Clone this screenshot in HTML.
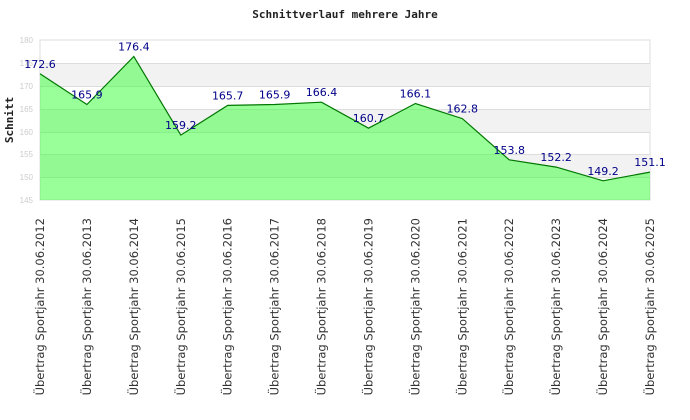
<!DOCTYPE html>
<html><head><meta charset="utf-8"><style>body{margin:0;background:#fff}svg{display:block}</style></head><body>
<svg width="690" height="420" xmlns="http://www.w3.org/2000/svg">
<rect width="690" height="420" fill="#fff"/>
<text x="345" y="18" text-anchor="middle" font-family="DejaVu Sans Mono, Liberation Mono, monospace" font-weight="bold" font-size="11" fill="#222">Schnittverlauf mehrere Jahre</text>
<text transform="translate(13,120) rotate(-90)" text-anchor="middle" font-family="DejaVu Sans Mono, Liberation Mono, monospace" font-weight="bold" font-size="11" fill="#222">Schnitt</text>
<rect x="40" y="40" width="610" height="160" fill="#fff" stroke="#ddd"/>
<rect x="40" y="63" width="610" height="23" fill="#f2f2f2"/>
<rect x="40" y="109" width="610" height="23" fill="#f2f2f2"/>
<rect x="40" y="154" width="610" height="23" fill="#f2f2f2"/>
<g stroke="#ddd" stroke-width="1">
<line x1="40" x2="650" y1="63.5" y2="63.5"/><line x1="40" x2="650" y1="86.5" y2="86.5"/><line x1="40" x2="650" y1="109.5" y2="109.5"/><line x1="40" x2="650" y1="132.5" y2="132.5"/><line x1="40" x2="650" y1="154.5" y2="154.5"/><line x1="40" x2="650" y1="177.5" y2="177.5"/>
</g>
<g font-family="Liberation Sans, sans-serif" font-size="8" fill="#ccc" text-anchor="end">
<text x="33" y="43">180</text><text x="33" y="66">175</text><text x="33" y="89">170</text><text x="33" y="112">165</text><text x="33" y="135">160</text><text x="33" y="157">155</text><text x="33" y="180">150</text><text x="33" y="203">145</text>
</g>
<g id="chart"></g>
<script>
var v=[172.6,165.9,176.4,159.2,165.7,165.9,166.4,160.7,166.1,162.8,153.8,152.2,149.2,151.1];
var ns="http://www.w3.org/2000/svg",g=document.getElementById("chart");
function X(i){return 40+i*610/13}function Y(a){return 200-(a-145)*160/35}
var pts=v.map(function(a,i){return X(i).toFixed(1)+","+Y(a).toFixed(1)}).join(" ");
var p=document.createElementNS(ns,"polygon");p.setAttribute("points","40,200 "+pts+" 650,200");p.setAttribute("fill","#33ff33");p.setAttribute("fill-opacity","0.5");g.appendChild(p);
var l=document.createElementNS(ns,"polyline");l.setAttribute("points",pts);l.setAttribute("fill","none");l.setAttribute("stroke","#007700");l.setAttribute("stroke-width","1.2");g.appendChild(l);
v.forEach(function(a,i){var t=document.createElementNS(ns,"text");t.setAttribute("x",X(i));t.setAttribute("y",Y(a)-6);t.setAttribute("text-anchor","middle");t.setAttribute("font-family","DejaVu Sans, sans-serif");t.setAttribute("font-size","11");t.setAttribute("fill","#000088");t.textContent=a.toFixed(1);g.appendChild(t);
var s=document.createElementNS(ns,"text");s.setAttribute("transform","translate("+(X(i)+4)+",218) rotate(-90)");s.setAttribute("text-anchor","end");s.setAttribute("font-family","DejaVu Sans, sans-serif");s.setAttribute("font-size","11.5");s.setAttribute("fill","#333");s.textContent="Übertrag Sportjahr 30.06."+(2012+i);g.appendChild(s);});
</script>
</svg>
</body></html>
